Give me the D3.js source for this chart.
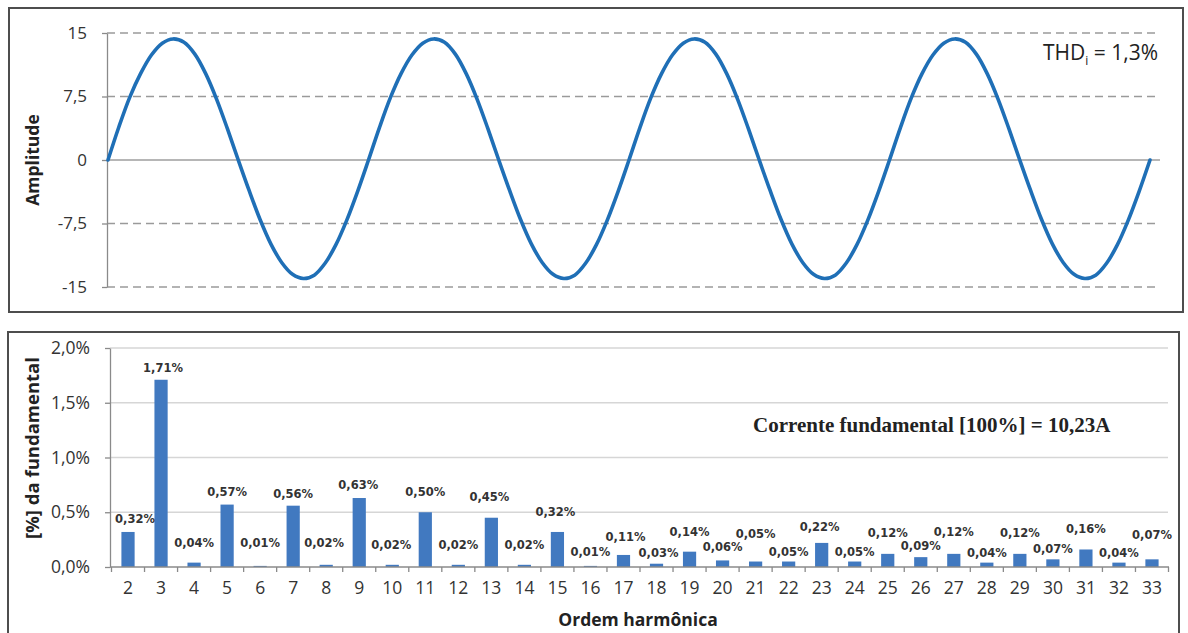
<!DOCTYPE html>
<html>
<head>
<meta charset="utf-8">
<script src="https://cdn.jsdelivr.net/npm/d3@7/dist/d3.min.js"></script>
<style>
  html, body { margin: 0; padding: 0; background: #fff; }
  svg { display: block; }
</style>
</head>
<body>
<svg id="chart" width="1188" height="633"></svg>
<script>
// ---------- DATA ----------
// Waveform samples (24 per cycle, 4 cycles)
const waveValues = [
  0, 3.9, 7.4, 10.2, 12.4, 13.8, 14.3, 13.9, 12.5, 10.2, 7.2, 3.7,
  0, -3.6, -7.0, -9.9, -12.1, -13.5, -14.0, -13.6, -12.2, -10.0, -7.1, -3.7,
  0, 3.8, 7.3, 10.2, 12.4, 13.8, 14.3, 13.9, 12.5, 10.2, 7.2, 3.7,
  0, -3.6, -7.0, -9.9, -12.1, -13.5, -14.0, -13.6, -12.2, -10.0, -7.1, -3.7,
  0, 3.8, 7.3, 10.2, 12.4, 13.8, 14.3, 13.9, 12.5, 10.2, 7.2, 3.7,
  0, -3.6, -7.0, -9.9, -12.1, -13.5, -14.0, -13.6, -12.2, -10.0, -7.1, -3.7,
  0, 3.8, 7.3, 10.2, 12.4, 13.8, 14.3, 13.9, 12.5, 10.2, 7.2, 3.7,
  0, -3.6, -7.0, -9.9, -12.1, -13.5, -14.0, -13.6, -12.2, -10.0, -7.1, -3.7,
  0
];
const waveTicks = [15, 7.5, 0, -7.5, -15];
const waveTickLabels = ["15", "7,5", "0", "-7,5", "-15"];

const harmonicOrders = [2,3,4,5,6,7,8,9,10,11,12,13,14,15,16,17,18,19,20,21,22,23,24,25,26,27,28,29,30,31,32,33];
const harmonicValues = [0.32,1.71,0.04,0.57,0.01,0.56,0.02,0.63,0.02,0.50,0.02,0.45,0.02,0.32,0.01,0.11,0.03,0.14,0.06,0.05,0.05,0.22,0.05,0.12,0.09,0.12,0.04,0.12,0.07,0.16,0.04,0.07];
const harmonicLabels = ["0,32%","1,71%","0,04%","0,57%","0,01%","0,56%","0,02%","0,63%","0,02%","0,50%","0,02%","0,45%","0,02%","0,32%","0,01%","0,11%","0,03%","0,14%","0,06%","0,05%","0,05%","0,22%","0,05%","0,12%","0,09%","0,12%","0,04%","0,12%","0,07%","0,16%","0,04%","0,07%"];
const pctTicks = [0, 0.5, 1.0, 1.5, 2.0];
const pctTickLabels = ["0,0%", "0,5%", "1,0%", "1,5%", "2,0%"];

// label layout (px above bar top, horizontal shift) as placed in the original
const labelLift = [13,12,20,13,23,12,22,13,20,20,20,21,20,20,14,18,11,20,13,28,10,16,10,21,11,22,10,21,10,20,10,24];
const labelShift = [7,2,0,0,0,0,-2,-1,-1,0,0,-2,0,-2,0,2,2,0,0,0,0,-2,0,0,0,0,0,0,0,0,0,0];

// ---------- DRAWING ----------
const svg = d3.select("#chart");
const tickFont = "'Open Sans', sans-serif";

// Panel frames
svg.append("rect").attr("x", 9).attr("y", 8).attr("width", 1174).attr("height", 304)
  .attr("fill", "#fff").attr("stroke", "#4d4d4d").attr("stroke-width", 2);
svg.append("rect").attr("x", 8).attr("y", 332).attr("width", 1171).attr("height", 320)
  .attr("fill", "#fff").attr("stroke", "#4d4d4d").attr("stroke-width", 2);

// ===== Top: waveform =====
const tp = { left: 107, right: 1160, top: 33, bottom: 287 };
const xw = d3.scaleLinear().domain([0, waveValues.length - 1]).range([108, 1150]);
const yw = d3.scaleLinear().domain([-15, 15]).range([tp.bottom, tp.top]);

const gTop = svg.append("g");
gTop.selectAll("line.grid").data(waveTicks.filter(d => d !== 0)).enter().append("line")
  .attr("x1", tp.left).attr("x2", tp.right)
  .attr("y1", d => yw(d)).attr("y2", d => yw(d))
  .attr("stroke", "#9a9a9a").attr("stroke-width", 1.3).attr("stroke-dasharray", "8,5");
gTop.append("line").attr("x1", tp.left).attr("x2", tp.right)
  .attr("y1", yw(0)).attr("y2", yw(0)).attr("stroke", "#6f6f6f").attr("stroke-width", 1.2);
const yAxisTop = d3.axisLeft(yw).tickValues(waveTicks).tickSize(5)
  .tickFormat((d, i) => waveTickLabels[i]).tickSizeOuter(0).tickPadding(15);
const gya = gTop.append("g").attr("transform", `translate(${tp.left},0)`).call(yAxisTop);
gya.select(".domain").attr("stroke", "#8a8a8a").attr("stroke-width", 1.3);
gya.selectAll(".tick line").attr("stroke", "#8a8a8a").attr("stroke-width", 1.3);
gya.selectAll(".tick text").attr("font-family", tickFont).attr("font-size", 17).attr("fill", "#333");

const line = d3.line().x((d, i) => xw(i)).y(d => yw(d)).curve(d3.curveCatmullRom.alpha(0.5));
gTop.append("path").datum(waveValues).attr("d", line)
  .attr("fill", "none").attr("stroke", "#1f6fb6").attr("stroke-width", 3.6)
  .attr("stroke-linejoin", "round").attr("stroke-linecap", "round");

gTop.append("text").attr("transform", `translate(39,${(tp.top + tp.bottom) / 2}) rotate(-90)`)
  .attr("text-anchor", "middle").attr("font-family", tickFont).attr("font-weight", 700)
  .attr("font-size", 17.5).attr("fill", "#222").text("Amplitude");

const thd = gTop.append("text").attr("x", 1158).attr("y", 60).attr("text-anchor", "end")
  .attr("font-family", tickFont).attr("font-size", 21).attr("fill", "#222");
thd.append("tspan").text("THD");
thd.append("tspan").attr("font-size", 12).attr("dy", 5).text("i");
thd.append("tspan").attr("dy", -5).text(" = 1,3%");

// ===== Bottom: harmonics =====
const bp = { left: 110, right: 1168, top: 348, bottom: 567 };
const xb = d3.scaleBand().domain(harmonicOrders).range([111.5, 1168.5]).paddingInner(0.6).paddingOuter(0.3);
const yb = d3.scaleLinear().domain([0, 2]).range([bp.bottom, bp.top]);

const gBot = svg.append("g");
gBot.selectAll("line.grid").data(pctTicks.filter(d => d > 0)).enter().append("line")
  .attr("x1", bp.left).attr("x2", bp.right)
  .attr("y1", d => yb(d)).attr("y2", d => yb(d))
  .attr("stroke", "#d6d6d6").attr("stroke-width", 1.3);

gBot.selectAll("rect.bar").data(harmonicValues).enter().append("rect")
  .attr("x", (d, i) => xb(harmonicOrders[i]))
  .attr("width", xb.bandwidth())
  .attr("y", d => yb(d))
  .attr("height", d => Math.max(yb(0) - yb(d), 0))
  .attr("fill", "#4179c0");

const yAxisBot = d3.axisLeft(yb).tickValues(pctTicks).tickSize(5)
  .tickFormat((d, i) => pctTickLabels[i]).tickSizeOuter(0).tickPadding(15);
const gyb = gBot.append("g").attr("transform", `translate(${bp.left},0)`).call(yAxisBot);
gyb.select(".domain").attr("stroke", "#8a8a8a").attr("stroke-width", 1.3);
gyb.selectAll(".tick line").attr("stroke", "#8a8a8a").attr("stroke-width", 1.3);
gyb.selectAll(".tick text").attr("font-family", tickFont).attr("font-size", 17.5).attr("fill", "#333");

const step = xb.step();
gBot.append("line").attr("x1", bp.left).attr("x2", bp.right + 1)
  .attr("y1", yb(0)).attr("y2", yb(0)).attr("stroke", "#8a8a8a").attr("stroke-width", 1.3);
const boundaries = harmonicOrders.map(d => xb(d) + xb.bandwidth() / 2 - step / 2)
  .concat([xb(harmonicOrders[harmonicOrders.length - 1]) + xb.bandwidth() / 2 + step / 2]);
gBot.selectAll("line.xtick").data(boundaries).enter().append("line")
  .attr("x1", d => d).attr("x2", d => d)
  .attr("y1", yb(0)).attr("y2", yb(0) + 5)
  .attr("stroke", "#8a8a8a").attr("stroke-width", 1.3);
gBot.selectAll("text.xlab").data(harmonicOrders).enter().append("text")
  .attr("x", d => xb(d) + xb.bandwidth() / 2).attr("y", 594)
  .attr("text-anchor", "middle").attr("font-family", tickFont).attr("font-size", 17.5)
  .attr("fill", "#333").text(d => d);

gBot.selectAll("text.dl").data(harmonicValues).enter().append("text")
  .attr("x", (d, i) => xb(harmonicOrders[i]) + xb.bandwidth() / 2 + labelShift[i])
  .attr("y", (d, i) => yb(d) - labelLift[i] + 4)
  .attr("text-anchor", "middle").attr("font-family", "'DejaVu Sans', sans-serif")
  .attr("font-weight", 700).attr("font-size", 11.5).attr("fill", "#333")
  .text((d, i) => harmonicLabels[i]);

gBot.append("text").attr("x", 638).attr("y", 626).attr("text-anchor", "middle")
  .attr("font-family", tickFont).attr("font-weight", 700).attr("font-size", 17.5)
  .attr("fill", "#222").text("Ordem harmônica");
gBot.append("text").attr("transform", `translate(39,448) rotate(-90)`)
  .attr("text-anchor", "middle").attr("font-family", tickFont).attr("font-weight", 700)
  .attr("font-size", 18.5).attr("fill", "#222").text("[%] da fundamental");

gBot.append("text").attr("x", 753).attr("y", 432)
  .attr("font-family", "'Liberation Serif', 'Times New Roman', serif").attr("font-weight", 700)
  .attr("font-size", 21).attr("fill", "#222").text("Corrente fundamental [100%] = 10,23A");
</script>
</body>
</html>
